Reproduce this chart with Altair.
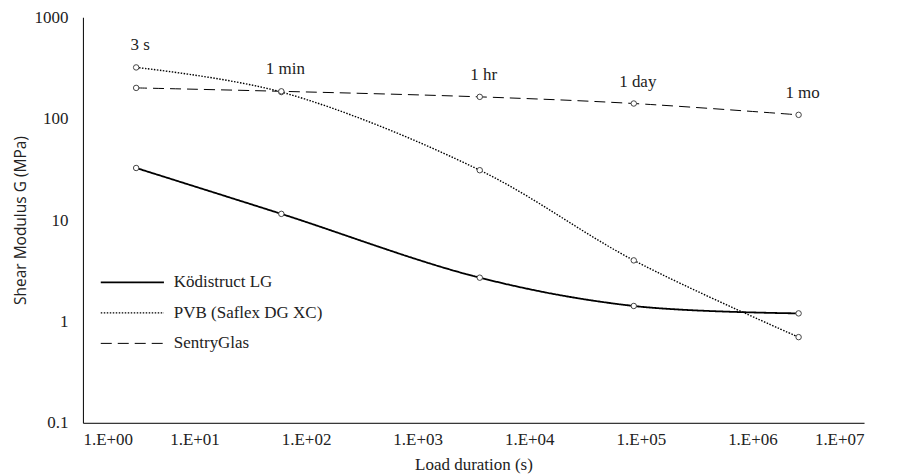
import altair as alt
import pandas as pd

durations = [3, 60, 3600, 86400, 2592000]
duration_labels = ["3 s", "1 min", "1 hr", "1 day", "1 mo"]
series_names = ["Ködistruct LG", "PVB (Saflex DG XC)", "SentryGlas"]
kodistruct = [32.6, 11.5, 2.7, 1.42, 1.2]
pvb = [320, 183, 31, 4.0, 0.70]
sentryglas = [201, 186, 164, 141, 109]

rows = []
for name, vals in zip(series_names, [kodistruct, pvb, sentryglas]):
    for d, v in zip(durations, vals):
        rows.append({"series": name, "t": d, "G": v})
df = pd.DataFrame(rows)

lab = pd.DataFrame({
    "t": durations,
    "label": duration_labels,
    "G": [max(a, b, c) for a, b, c in zip(kodistruct, pvb, sentryglas)],
})

serif = "Liberation Serif"
fs = 17

xscale = alt.Scale(type="log", domain=[1, 1e7], nice=False)
yscale = alt.Scale(type="log", domain=[0.1, 1000], nice=False)

x = alt.X("t:Q", scale=xscale, title="Load duration (s)",
          axis=alt.Axis(values=[1, 10, 100, 1000, 1e4, 1e5, 1e6, 1e7],
                        labelExpr="'1.E+0' + round(log(datum.value)/LN10)",
                        grid=False, ticks=False, domainColor="#000",
                        labelFont=serif, labelFontSize=fs, labelColor="#222",
                        labelPadding=9, titleFont=serif, titleFontSize=fs,
                        titleFontWeight="normal", titleColor="#222", titlePadding=9))
y = alt.Y("G:Q", scale=yscale, title="Shear Modulus G (MPa)",
          axis=alt.Axis(values=[0.1, 1, 10, 100, 1000], format="~g",
                        grid=False, ticks=False, domainColor="#000",
                        labelFont=serif, labelFontSize=fs, labelColor="#222",
                        labelPadding=15, titleFont="Open Sans", titleFontSize=15.5,
                        titleFontWeight="normal", titleColor="#222", titlePadding=5))

legend = alt.Legend(title=None, orient="none", legendX=41, legendY=257,
                    symbolType="M-10,0H10", symbolSize=40, symbolStrokeColor="black",
                    labelFont=serif, labelFontSize=fs, labelColor="#222",
                    rowPadding=12.5, labelOffset=33)

lines = alt.Chart(df).mark_line(interpolate="catmull-rom", color="black").encode(
    x=x, y=y,
    strokeDash=alt.StrokeDash("series:N", sort=series_names,
                              scale=alt.Scale(domain=series_names,
                                              range=[[1, 0], [1.5, 1.5], [11, 6]]),
                              legend=legend),
    strokeWidth=alt.StrokeWidth("series:N", sort=series_names,
                                scale=alt.Scale(domain=series_names, range=[1.8, 1, 1.6]),
                                legend=legend),
    detail="series:N",
)

points = alt.Chart(df).mark_point(shape="circle", filled=True, fill="white",
                                  stroke="#444", strokeWidth=1, size=30, opacity=1).encode(
    x="t:Q", y="G:Q", detail="series:N"
)

texts = alt.Chart(lab).mark_text(font=serif, fontSize=fs, color="#222",
                                 dy=-22, dx=4, baseline="middle").encode(
    x="t:Q", y="G:Q", text="label:N"
)

chart = alt.layer(lines, points, texts).properties(
    width=782, height=406,
    padding={"left": 75, "top": 9, "right": 30, "bottom": 53},
    autosize=alt.AutoSizeParams(type="none"),
).configure_view(stroke=None)

chart.save("out.html", embed_options={"renderer": "svg", "actions": False})
